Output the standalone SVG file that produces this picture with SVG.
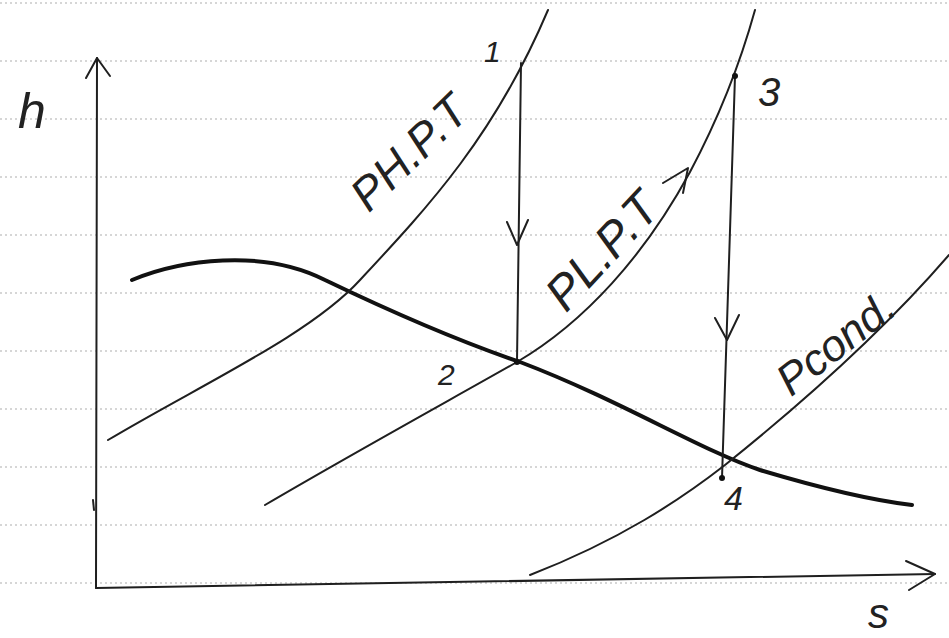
<svg xmlns="http://www.w3.org/2000/svg" width="949" height="638" viewBox="0 0 949 638">
<style>
.rule{stroke:#c9c9c9;stroke-width:1.5;stroke-dasharray:2 3;fill:none}
.ln{stroke:#1f1f1f;stroke-width:2;fill:none;stroke-linecap:round;stroke-linejoin:round}
.dome{stroke:#111;stroke-width:4;fill:none;stroke-linecap:round}
.hw{font-family:"Liberation Sans",Arial,sans-serif;fill:#222;font-style:italic}
</style>
<rect width="949" height="638" fill="#fff"/>
<g id="ruled-paper">
<path class="rule" d="M0,3H949M0,61H949M0,119H949M0,177H949M0,235H949M0,293H949M0,351H949M0,409H949M0,467H949M0,525H949M0,583H949"/>
</g>
<g id="axes">
<path class="ln" d="M96,588 L97,58"/>
<path class="ln" d="M86,78 L97,58 L110,76"/>
<path class="ln" d="M96,588 L935,574"/>
<path class="ln" d="M906,561 L935,574 L909,590"/>
<path class="ln" d="M93,500 L94,510"/>
<text class="hw" x="18" y="128" font-size="50">h</text>
<text class="hw" x="868" y="628" font-size="42">s</text>
</g>
<g id="saturation-dome">
<path class="dome" d="M132,280 C180,260 262,248 325,280 C400,316 470,345 520,362 C620,400 700,450 760,470 C820,488 870,500 912,505"/>
</g>
<g id="curve-PHPT">
<path class="ln" d="M108,440 C200,385 310,335 360,280 C430,205 495,135 548,10"/>
<text class="hw" font-size="46" transform="translate(420,164) rotate(-44)" text-anchor="middle">PH.P.T</text>
</g>
<g id="curve-PLPT">
<path class="ln" d="M265,505 C350,455 450,400 517,362 C585,322 645,255 690,172 C715,125 737,75 755,10"/>
<text class="hw" font-size="48" transform="translate(614,262) rotate(-47)" text-anchor="middle">PL.P.T</text>
<path class="ln" d="M663,183 L688,168 L683,193"/>
</g>
<g id="curve-Pcond">
<path class="ln" d="M530,575 C620,540 680,500 725,465 C800,405 880,335 949,255"/>
<text class="hw" font-size="44" transform="translate(845,355) rotate(-38)" text-anchor="middle">Pcond.</text>
</g>
<g id="connectors">
<path class="ln" d="M521,63 L517,362"/>
<path class="ln" d="M507,222 L517,245 L528,220"/>
<path class="ln" d="M735,76 L722,478"/>
<path class="ln" d="M715,318 L727,340 L739,315"/>
</g>
<g id="point-1"><text class="hw" x="484" y="62" font-size="30">1</text></g>
<g id="point-2"><circle cx="517" cy="362" r="3" fill="#111"/><text class="hw" x="438" y="385" font-size="30">2</text></g>
<g id="point-3"><circle cx="735" cy="76" r="3" fill="#111"/><text class="hw" x="758" y="106" font-size="40">3</text></g>
<g id="point-4"><circle cx="722" cy="478" r="3" fill="#111"/><text class="hw" x="724" y="510" font-size="34">4</text></g>
</svg>
